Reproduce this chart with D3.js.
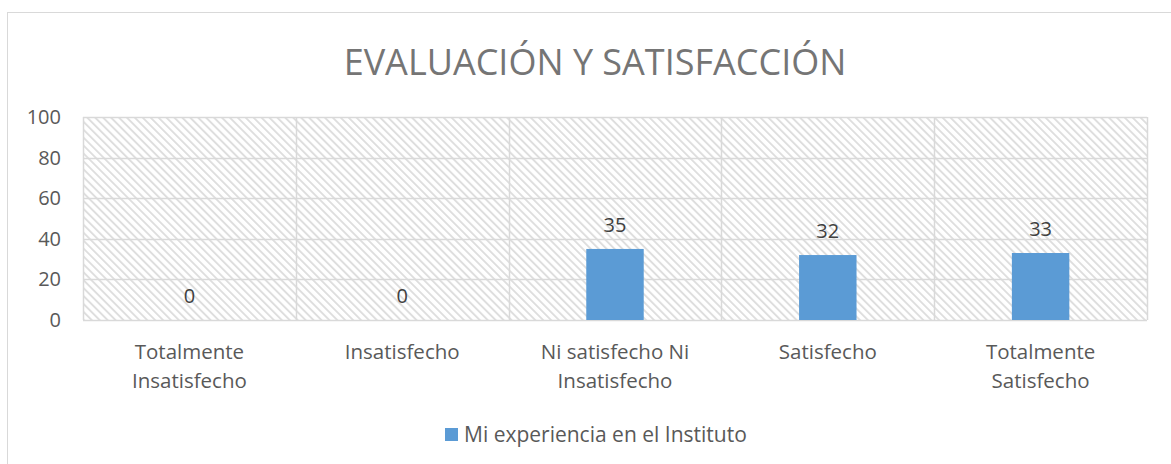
<!DOCTYPE html>
<html>
<head>
<meta charset="utf-8">
<script src="https://cdn.jsdelivr.net/npm/d3@7"></script>
<style>
  body { margin: 0; background: #fff; }
  svg { display: block; font-family: 'Open Sans', sans-serif; }
</style>
</head>
<body>
<div class="graphContainer"></div>
<script>
// Chart data
const categories = ['Totalmente Insatisfecho', 'Insatisfecho', 'Ni satisfecho Ni Insatisfecho', 'Satisfecho', 'Totalmente Satisfecho'];
const categoryLines = [['Totalmente', 'Insatisfecho'], ['Insatisfecho'], ['Ni satisfecho Ni', 'Insatisfecho'], ['Satisfecho'], ['Totalmente', 'Satisfecho']];
const values = [0, 0, 35, 32, 33];
const yTicks = [0, 20, 40, 60, 80, 100];
const seriesName = 'Mi experiencia en el Instituto';
const title = 'EVALUACIÓN Y SATISFACCIÓN';

const renderChart = () => {
    const width = 1171, height = 464;
    const plot = { left: 83, right: 1147, top: 117, bottom: 320 };
    const textColor = '#595959';
    const gridColor = '#d9d9d9';
    const barColor = '#5b9bd5';

    const svg = d3.select('.graphContainer')
        .append('svg')
        .attr('width', width)
        .attr('height', height);

    // Hatched plot background (wide downward diagonal)
    const pattern = svg.append('defs').append('pattern')
        .attr('id', 'hatch')
        .attr('patternUnits', 'userSpaceOnUse')
        .attr('width', 5.6)
        .attr('height', 5.6)
        .attr('patternTransform', 'rotate(-45)');
    pattern.append('rect').attr('width', 5.6).attr('height', 5.6).attr('fill', '#fff');
    pattern.append('rect').attr('x', 0).attr('width', 1.9).attr('height', 5.6).attr('fill', '#dedede');

    // Chart border
    svg.append('rect')
        .attr('x', 7.5).attr('y', 12.5)
        .attr('width', width).attr('height', height)
        .attr('fill', 'none')
        .attr('stroke', gridColor);

    // Scales
    const x = d3.scaleBand()
        .domain(categories)
        .range([plot.left, plot.right])
        .padding(0);

    const y = d3.scaleLinear()
        .domain([0, 100])
        .range([plot.bottom, plot.top]);

    svg.append('rect')
        .attr('x', plot.left).attr('y', plot.top)
        .attr('width', plot.right - plot.left)
        .attr('height', plot.bottom - plot.top)
        .attr('fill', 'url(#hatch)');

    // Gridlines
    svg.append('g')
        .selectAll('line')
        .data(yTicks)
        .enter()
        .append('line')
        .attr('x1', plot.left).attr('x2', plot.right)
        .attr('y1', d => Math.round(y(d)) + 0.5)
        .attr('y2', d => Math.round(y(d)) + 0.5)
        .attr('stroke', gridColor)
        .attr('stroke-width', 1.5);

    // Vertical category separators
    const seps = categories.map(c => x(c)).concat([plot.right]);
    svg.append('g')
        .selectAll('line')
        .data(seps)
        .enter()
        .append('line')
        .attr('x1', d => Math.round(d) + 0.5).attr('x2', d => Math.round(d) + 0.5)
        .attr('y1', plot.top).attr('y2', plot.bottom)
        .attr('stroke', gridColor)
        .attr('stroke-width', 1.5);

    // Y axis labels
    const yAxis = svg.append('g')
        .attr('transform', `translate(${plot.left},0)`)
        .call(d3.axisLeft(y).tickValues(yTicks).tickSize(0).tickPadding(22));
    yAxis.select('.domain').remove();
    yAxis.selectAll('text')
        .attr('fill', textColor)
        .style('font-size', '20px')
        .style('font-family', "'Open Sans', sans-serif");

    // Bars
    const barW = x.bandwidth() * 0.27;
    svg.selectAll('.bar')
        .data(values)
        .enter()
        .append('rect')
        .attr('class', 'bar')
        .attr('x', (d, i) => x(categories[i]) + (x.bandwidth() - barW) / 2)
        .attr('y', d => y(d))
        .attr('width', barW)
        .attr('height', d => y(0) - y(d))
        .attr('fill', barColor);

    // Data labels
    svg.selectAll('.label')
        .data(values)
        .enter()
        .append('text')
        .attr('class', 'label')
        .attr('x', (d, i) => x(categories[i]) + x.bandwidth() / 2)
        .attr('y', d => y(d) - 17)
        .attr('text-anchor', 'middle')
        .attr('fill', '#404040')
        .style('font-size', '20px')
        .text(d => d);

    // Category labels
    const cat = svg.append('g');
    categoryLines.forEach((lines, i) => {
        cat.append('text')
            .attr('x', x(categories[i]) + x.bandwidth() / 2)
            .attr('y', 359)
            .attr('text-anchor', 'middle')
            .attr('fill', textColor)
            .style('font-size', '20.5px')
            .selectAll('tspan')
            .data(lines)
            .enter()
            .append('tspan')
            .attr('x', x(categories[i]) + x.bandwidth() / 2)
            .attr('dy', (d, j) => j === 0 ? 0 : 28.5)
            .text(d => d);
    });

    // Title
    svg.append('text')
        .attr('x', 595)
        .attr('y', 75)
        .attr('text-anchor', 'middle')
        .attr('fill', '#757575')
        .style('font-size', '36px')
        .text(title);

    // Legend
    svg.append('rect')
        .attr('x', 445).attr('y', 428)
        .attr('width', 13).attr('height', 13)
        .attr('fill', barColor);
    svg.append('text')
        .attr('x', 464).attr('y', 442)
        .attr('fill', textColor)
        .style('font-size', '21px')
        .text(seriesName);
};

renderChart();
</script>
</body>
</html>
